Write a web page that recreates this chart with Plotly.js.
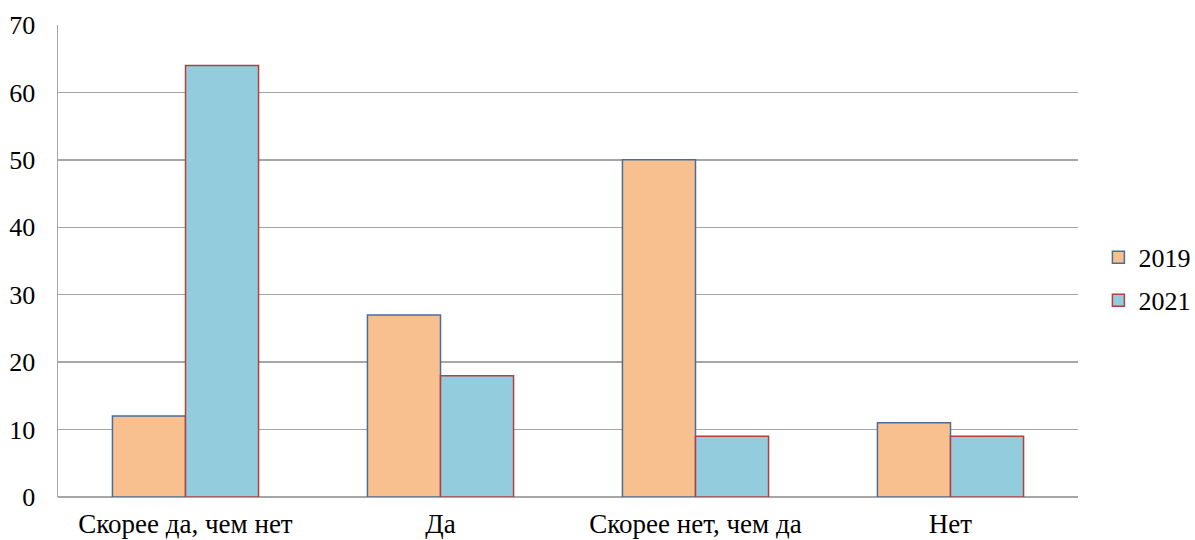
<!DOCTYPE html>
<html>
<head>
<meta charset="utf-8">
<script src="https://cdn.plot.ly/plotly-3.0.1.min.js"></script>
<style>html,body{margin:0;padding:0;background:#fff;}#chart{width:1195px;height:540px;}</style>
</head>
<body>
<div id="chart"></div>
<script>
const categories = ["Скорее да, чем нет", "Да", "Скорее нет, чем да", "Нет"];
const series2019 = [12, 27, 50, 11];
const series2021 = [64, 18, 9, 9];
const yTicks = [0, 10, 20, 30, 40, 50, 60, 70];

const traces = [
  {type: "bar", name: "2019", legendgroup: "g2019", x: categories, y: series2019,
   marker: {color: "#F9C08F", line: {color: "#4A6C9B", width: 1.5}}},
  {type: "bar", name: "2021", legendgroup: "g2021", x: categories, y: series2021,
   marker: {color: "#93CDDD", line: {color: "#B0413E", width: 1.5}}}
];

const serif = "Liberation Serif";

const layout = {
  width: 1195, height: 540,
  margin: {l: 58, r: 117, t: 25, b: 43, autoexpand: false},
  paper_bgcolor: "#fff", plot_bgcolor: "#fff",
  font: {family: serif, size: 26, color: "#000"},
  barmode: "group",
  bargap: 0.427, bargroupgap: 0,
  showlegend: true,
  legend: {x: 1.02, xanchor: "left", y: 0.462, yanchor: "middle", font: {family: serif, size: 26}, tracegroupgap: 6, itemwidth: 30},
  xaxis: {showgrid: false, showline: false, zeroline: false, ticks: "", tickfont: {family: serif, size: 27}, ticklabelstandoff: 8},
  yaxis: {range: [0, 70], tickvals: yTicks, showgrid: true, gridcolor: "#A6A6A6", gridwidth: 1.5,
          showline: true, linecolor: "#A6A6A6", linewidth: 1.5, zeroline: true, zerolinecolor: "#A6A6A6", zerolinewidth: 1.5,
          ticks: "", tickfont: {family: serif, size: 26}, ticklabelstandoff: 16}
};

Plotly.newPlot("chart", traces, layout, {displayModeBar: false, staticPlot: true});
</script>
</body>
</html>
